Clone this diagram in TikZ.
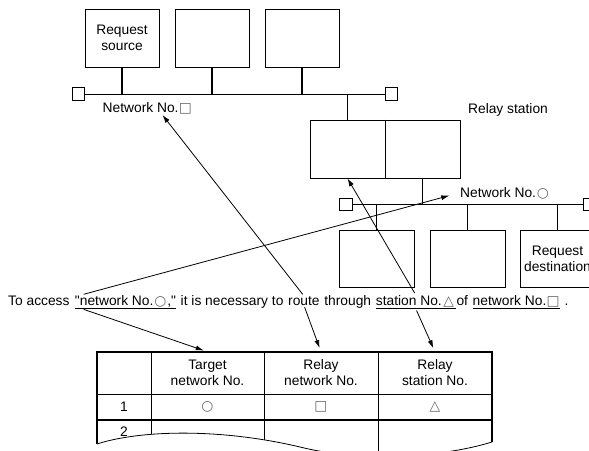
\documentclass[tikz,border=0pt]{standalone}
\usepackage{fontspec}
\setmainfont{Liberation Sans}
\newfontfamily\symfont{DejaVu Sans}
\usepackage{tikz}
\usetikzlibrary{arrows.meta, positioning}

\newcommand{\sym}[1]{\makebox[1em]{\symfont\color{black!60}#1}}
\newcommand{\ulword}[1]{\setbox0\hbox{#1}\rlap{\rule[-3.5pt]{\wd0}{0.8pt}}\box0}

\begin{document}
\begin{tikzpicture}[
    x=1pt, y=-1pt,
    font=\fontsize{13.8}{16}\selectfont,
    station/.style={rectangle, draw, line width=0.8pt, minimum width=74pt, minimum height=58pt, inner sep=0pt, align=center},
    terminal/.style={rectangle, draw, line width=0.8pt, minimum size=12.5pt, inner sep=0pt},
    bus/.style={-, line width=0.8pt},
    drop/.style={-, line width=1.8pt},
    word/.style={inner sep=0pt},
    cell/.style={inner sep=0pt, minimum height=42pt, align=center},
    tblthin/.style={line width=0.8pt},
    tblthick/.style={line width=1.8pt},
    conn/.style={-{Latex[length=8pt,width=5pt]}, line width=0.8pt, shorten <=2pt}
]
    \useasboundingbox (0,0) rectangle (589,450);

    % Network of the request source
    \node[station] (src) at (122,38) {Request\\source};
    \node[station] (st2) at (212,38) {};
    \node[station] (st3) at (302,38) {};
    \node[terminal] (tA1) at (78.5,94) {};
    \node[terminal] (tA2) at (391.5,94) {};
    \draw[bus] (tA1) -- (tA2);
    \foreach \s in {src,st2,st3} {
        \draw[drop] (\s.south) -- (\s.south |- tA1);
    }
    \node[inner sep=1pt] (netA) at (147.5,108) {Network No.\sym{□}};

    % Relay station
    \node[station, minimum width=75pt] (rlyL) at (347.5,149) {};
    \node[station, minimum width=75pt] (rlyR) at (422.5,149) {};
    \draw[drop] (rlyL.north east) -- (rlyL.south east);
    \draw[drop] (rlyL.north) -- (rlyL.north |- tA1);
    \node (rlylbl) at (508,110) {Relay station};

    % Network of the request destination
    \node[terminal] (tB1) at (346,204.5) {};
    \node[terminal] (tB2) at (589.5,204.5) {};
    \draw[bus] (tB1) -- (tB2);
    \draw[bus] (rlyR.south) -- (rlyR.south |- tB1);
    \node[station, minimum width=75pt, minimum height=57pt] (st4) at (376.5,259) {};
    \node[station, minimum width=75pt, minimum height=57pt] (st5) at (467.5,259) {};
    \node[station, minimum width=75pt, minimum height=57pt] (dst) at (557.5,259) {Request\\destination};
    \foreach \s in {st4,st5,dst} {
        \draw[bus] (\s.north) -- (\s.north |- tB1);
    }
    \node[inner sep=1pt] (netB) at (505,193) {Network No.\sym{○}};

    % Sentence
    \node[word, anchor=base west] (s1) at (8,305) {To access};
    \node[word, base right=5pt of s1] (s2) {\ulword{\textquotedbl network No.\sym{○},\textquotedbl}};
    \node[word, base right=4.3pt of s2] (s3) {it is necessary to};
    \node[word, base right=4.3pt of s3] (s4) {route};
    \node[word, base right=4.3pt of s4] (s5) {through};
    \node[word, base right=4.3pt of s5] (s6) {\ulword{station No.\sym{△}}};
    \node[word, base right=0.5pt of s6] (s7) {of};
    \node[word, base right=4.3pt of s7] (s8) {\ulword{network No.\sym{□}}};
    \node[word, base right=4pt of s8] (s9) {.};

    % Table
    \node[cell] (h0) at (124,373) {};
    \node[cell] (h1) at (207.5,373) {Target\\network No.};
    \node[cell] (h2) at (321,373) {Relay\\network No.};
    \node[cell] (h3) at (435,373) {Relay\\station No.};
    \node (r1) at (124,407) {1};
    \node (r1a) at (207.5,407) {\sym{○}};
    \node (r1b) at (321,407) {\sym{□}};
    \node (r1c) at (435,407) {\sym{△}};
    \node (r2) at (124,432) {2};
    \foreach \x in {151,264,378} {
        \draw[tblthin] (\x,352) -- (\x,465);
    }
    \draw[tblthin] (97,394) -- (492,394);
    \draw[tblthick] (97,420) -- (492,420);
    \draw[tblthick] (97,444) -- (97,352) -- (492,352) -- (492,442);
    \fill[white] (97,444) .. controls (140,430) and (220,428) .. (300,447)
        .. controls (360,462) and (440,458) .. (492,442) -- (500,470) -- (90,470) -- cycle;
    \draw[tblthin] (97,444) .. controls (140,430) and (220,428) .. (300,447)
        .. controls (360,462) and (440,458) .. (492,442);

    % Arrows
    \draw[conn] (s4.north) -- ([xshift=15pt]netA.south);
    \draw[conn, shorten >=4pt] (s4.south) -- (h2.north);
    \draw[conn, shorten >=10pt] ([xshift=7pt]s2.north west) -- (netB.west);
    \draw[conn, shorten >=4pt] ([xshift=7pt]s2.south west) -- (h1.north);
    \draw[conn] (s6.north) -- (rlyL.south);
    \draw[conn, shorten >=4pt] (s6.south) -- (h3.north);
\end{tikzpicture}
\end{document}
